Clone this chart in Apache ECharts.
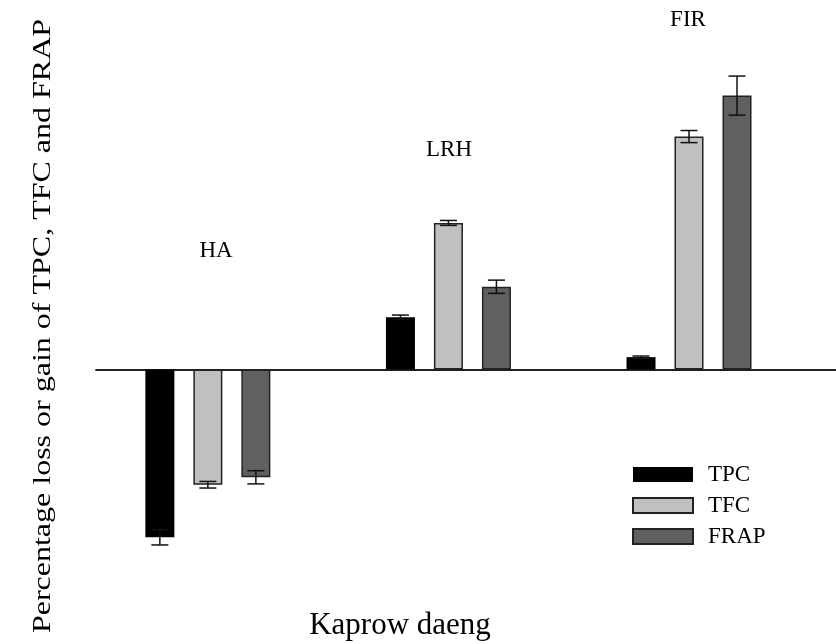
<!DOCTYPE html>
<html>
<head>
<meta charset="utf-8">
<script src="https://cdn.jsdelivr.net/npm/echarts@6/dist/echarts.min.js"></script>
<style>
  html, body { margin: 0; padding: 0; background: #fff; }
  #main { width: 836px; height: 644px; }
</style>
</head>
<body>
<div id="main"></div>
<script>
// groups (cultivar Kaprow daeng, three drying methods)
var categories = ['HA', 'LRH', 'FIR'];
var seriesNames = ['TPC', 'TFC', 'FRAP'];
// percentage loss (-) or gain (+)
var tpc = [-61.0, 19.0, 4.5];
var tfc = [-41.9, 53.3, 84.7];
var frap = [-39.2, 30.1, 99.6];
// error bar half-lengths
var tpcErr = [2.8, 0.8, 0.4];
var tfcErr = [1.2, 0.9, 2.2];
var frapErr = [2.4, 2.4, 7.1];

var font = '"Liberation Serif", "Times New Roman", serif';
var colors = ['#000000', '#c0c0c0', '#606060'];
var barW = 29;
var step = 48; // centre to centre, px
var values = [tpc, tfc, frap];
var errs = [tpcErr, tfcErr, frapErr];

function pairs(arr) {
  return arr.map(function (v, i) { return [i, v]; });
}
function errData(arr, err) {
  return arr.map(function (v, i) { return [i, v, err[i]]; });
}

function errorSeries(k) {
  var offset = (k - 1) * step;
  return {
    type: 'custom',
    name: seriesNames[k] + ' err',
    z: 5,
    silent: true,
    data: errData(values[k], errs[k]),
    renderItem: function (params, api) {
      var x = api.value(0), y = api.value(1), e = api.value(2);
      var hi = api.coord([x, y + e]);
      var lo = api.coord([x, y - e]);
      var cx = hi[0] + offset;
      var half = 8.5;
      var st = { stroke: '#111', lineWidth: 1.5 };
      return {
        type: 'group',
        children: [
          { type: 'line', shape: { x1: cx, y1: hi[1], x2: cx, y2: lo[1] }, style: st },
          { type: 'line', shape: { x1: cx - half, y1: hi[1], x2: cx + half, y2: hi[1] }, style: st },
          { type: 'line', shape: { x1: cx - half, y1: lo[1], x2: cx + half, y2: lo[1] }, style: st }
        ]
      };
    }
  };
}

var series = [];
seriesNames.forEach(function (name, k) {
  series.push({
    type: 'bar',
    name: name,
    data: pairs(values[k]),
    barWidth: barW,
    barGap: ((step - barW) / barW * 100) + '%',
    itemStyle: {
      color: colors[k],
      borderColor: k === 0 ? '#000' : '#222',
      borderWidth: k === 0 ? 0 : 1.5
    }
  });
});
seriesNames.forEach(function (name, k) {
  series.push(errorSeries(k));
});

var chart = echarts.init(document.getElementById('main'));
chart.setOption({
  animation: false,
  backgroundColor: '#fff',
  grid: { left: 96, right: 0, top: 25.75, height: 550 },
  xAxis: {
    type: 'value',
    min: -0.465,
    max: 2.611,
    axisLine: { show: true, onZero: true, lineStyle: { color: '#222', width: 1.8 } },
    axisTick: { show: false },
    axisLabel: { show: false },
    splitLine: { show: false }
  },
  yAxis: {
    type: 'value',
    min: -75,
    max: 125,
    show: false,
    splitLine: { show: false }
  },
  legend: {
    data: seriesNames,
    orient: 'vertical',
    left: 627,
    top: 458,
    itemWidth: 60,
    itemHeight: 15,
    itemGap: 8,
    icon: 'rect',
    textStyle: { fontFamily: font, fontSize: 23, color: '#000', lineHeight: 15, padding: [0, 0, 0, 10] }
  },
  graphic: [
    { type: 'text', x: 216, y: 250.5, style: { text: categories[0], font: '23px ' + font, fill: '#000', textAlign: 'center', textVerticalAlign: 'middle' } },
    { type: 'text', x: 449, y: 150, style: { text: categories[1], font: '23px ' + font, fill: '#000', textAlign: 'center', textVerticalAlign: 'middle' } },
    { type: 'text', x: 688, y: 20.3, style: { text: categories[2], font: '23px ' + font, fill: '#000', textAlign: 'center', textVerticalAlign: 'middle' } },
    {
      type: 'text', x: 400, y: 626,
      style: { text: 'Kaprow daeng', font: '31px ' + font, fill: '#000', textAlign: 'center', textVerticalAlign: 'middle' }
    },
    {
      type: 'text', x: 43, y: 326, rotation: Math.PI / 2,
      style: { text: 'Percentage loss or gain of TPC, TFC and FRAP', font: '25px ' + font, fill: '#000', textAlign: 'center', textVerticalAlign: 'middle' },
      scaleX: 1.28
    }
  ],
  series: series
});
</script>
</body>
</html>
